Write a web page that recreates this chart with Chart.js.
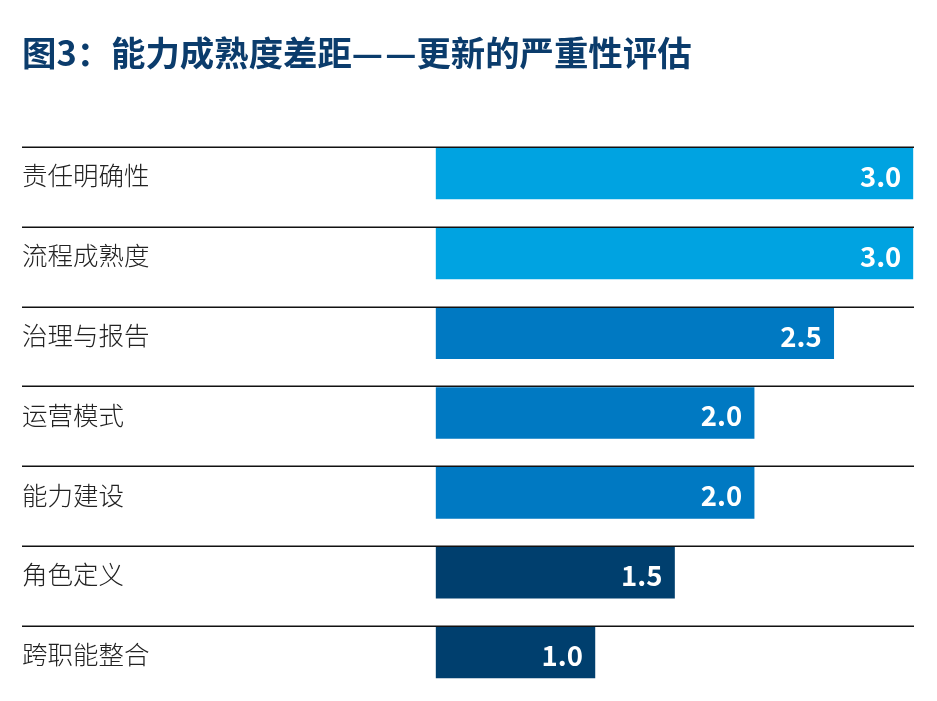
<!DOCTYPE html>
<html>
<head>
<meta charset="utf-8">
<script src="https://cdn.jsdelivr.net/npm/chart.js@4/dist/chart.umd.min.js"></script>
<style>
  html, body { margin: 0; padding: 0; background: #ffffff; }
  #wrap { width: 937px; height: 701px; }
</style>
</head>
<body>
<div id="wrap"><canvas id="c" width="937" height="701"></canvas></div>
<script>
const chartTitle = '图3：能力成熟度差距—\u200A—更新的严重性评估';
const categories = ['责任明确性', '流程成熟度', '治理与报告', '运营模式', '能力建设', '角色定义', '跨职能整合'];
const severity = [3.0, 3.0, 2.5, 2.0, 2.0, 1.5, 1.0];
const barColors = ['#00a3e1', '#00a3e1', '#0079c2', '#0079c2', '#0079c2', '#003f6e', '#003f6e'];

const BAR_THICK = 51;

const rowLines = {
  id: 'rowLines',
  afterDatasetsDraw(chart) {
    const ctx = chart.ctx;
    const y = chart.scales.y;
    ctx.save();
    ctx.strokeStyle = '#111111';
    ctx.lineWidth = 1.5;
    for (let i = 0; i < categories.length; i++) {
      const py = Math.round(y.getPixelForValue(i) - BAR_THICK / 2) - 0.75;
      ctx.beginPath();
      ctx.moveTo(22, py);
      ctx.lineTo(914, py);
      ctx.stroke();
    }
    ctx.restore();
  }
};

const valueLabels = {
  id: 'valueLabels',
  afterDatasetsDraw(chart) {
    const ctx = chart.ctx;
    const meta = chart.getDatasetMeta(0);
    ctx.save();
    ctx.fillStyle = '#ffffff';
    ctx.font = 'bold 27.5px "Noto Sans CJK SC", "Noto Sans", sans-serif';
    ctx.textAlign = 'right';
    ctx.textBaseline = 'middle';
    meta.data.forEach((bar, i) => {
      ctx.fillText(severity[i].toFixed(1), bar.x - 12, bar.y + 3);
    });
    ctx.restore();
  }
};

new Chart(document.getElementById('c'), {
  type: 'bar',
  data: {
    labels: categories,
    datasets: [{
      data: severity,
      backgroundColor: barColors,
      borderWidth: 0,
      barThickness: BAR_THICK
    }]
  },
  options: {
    indexAxis: 'y',
    responsive: false,
    animation: false,
    devicePixelRatio: 1,
    layout: { padding: { left: 22, right: 23.7, top: 0, bottom: 8.6 } },
    plugins: {
      legend: { display: false },
      tooltip: { enabled: false },
      title: {
        display: true,
        text: chartTitle,
        align: 'start',
        color: '#0b3c6c',
        font: { family: '"Noto Sans CJK SC", sans-serif', size: 34.4, weight: 'bold', lineHeight: 1.2 },
        padding: { top: 32, bottom: 60.3 }
      }
    },
    scales: {
      x: {
        display: false,
        min: 0,
        max: 3
      },
      y: {
        grid: { display: false },
        border: { display: false },
        afterFit(scale) {
          scale.width = 413.7;
          scale.paddingTop = 0;
          scale.paddingBottom = 0;
        },
        ticks: {
          crossAlign: 'far',
          labelOffset: 2,
          color: '#222222',
          font: { family: '"Noto Sans CJK SC", sans-serif', size: 25.5, weight: '300' }
        }
      }
    }
  },
  plugins: [rowLines, valueLabels]
});
</script>
</body>
</html>
